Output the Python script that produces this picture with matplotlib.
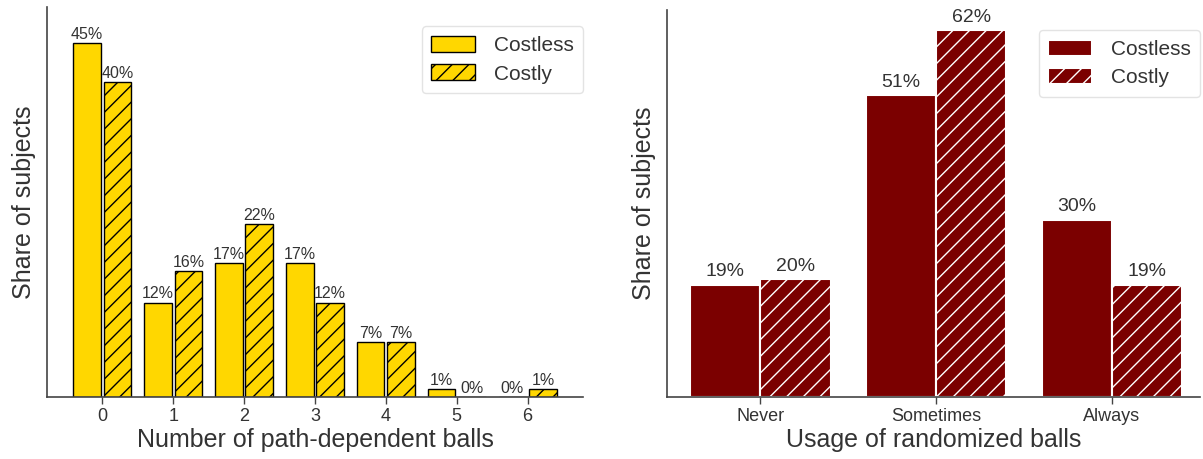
import numpy as np
import matplotlib
matplotlib.use("Agg")
import matplotlib.pyplot as plt

plt.rcParams['font.family'] = ['Liberation Sans', 'DejaVu Sans']
plt.rcParams['hatch.linewidth'] = 1.0

# Path-dependent balls (left panel)
balls = ["0", "1", "2", "3", "4", "5", "6"]
path_costless = [45, 12, 17, 17, 7, 1, 0]
path_costly = [40, 16, 22, 12, 7, 0, 1]

# Randomized ball usage (right panel)
usage = ["Never", "Sometimes", "Always"]
rand_costless = [19, 51, 30]
rand_costly = [20, 62, 19]

series_names = ["Costless", "Costly"]

GOLD = "#FFD700"
MAROON = "#7B0000"
SPINE = "#444444"
TEXT = "#333333"

fig = plt.figure(figsize=(12.03, 4.59), dpi=100)
ax1 = fig.add_axes([0.039, 0.135, 0.4456, 0.850])
ax2 = fig.add_axes([0.5544, 0.135, 0.4431, 0.843])


def style_axes(ax):
    for side in ("top", "right"):
        ax.spines[side].set_visible(False)
    for side in ("left", "bottom"):
        ax.spines[side].set_color(SPINE)
        ax.spines[side].set_linewidth(1.2)
    ax.set_yticks([])
    ax.tick_params(axis="x", length=5, width=1.0, color=SPINE,
                   labelsize=13, labelcolor=TEXT, pad=3)


def add_legend(ax, top):
    leg = ax.legend(loc="upper right", fontsize=15, frameon=True,
                    handlelength=2.1, handleheight=0.8, borderpad=0.45,
                    labelspacing=0.45, handletextpad=0.9,
                    borderaxespad=0.0, bbox_to_anchor=(1.0, top))
    leg.get_frame().set_edgecolor("#DDDDDD")
    for t in leg.get_texts():
        t.set_color(TEXT)
    return leg


# Left panel
x1 = np.arange(len(balls))
w1 = 0.39
b1 = ax1.bar(x1 - 0.215, path_costless, w1, color=GOLD, edgecolor="black",
             linewidth=1.0, label=series_names[0])
b2 = ax1.bar(x1 + 0.215, path_costly, w1, color=GOLD, edgecolor="black",
             linewidth=1.0, hatch="//", label=series_names[1])
ax1.bar_label(b1, labels=[f"{v}%" for v in path_costless], padding=1,
              fontsize=11.5, color=TEXT)
ax1.bar_label(b2, labels=[f"{v}%" for v in path_costly], padding=1,
              fontsize=11.5, color=TEXT)
ax1.set_xticks(x1)
ax1.set_xticklabels(balls)
ax1.set_xlim(-0.78, 6.78)
ax1.set_ylim(0, 49.6)
style_axes(ax1)
ax1.set_xlabel("Number of path-dependent balls", fontsize=18, color=TEXT,
               labelpad=2)
ax1.set_ylabel("Share of subjects", fontsize=18, color=TEXT, labelpad=8)
add_legend(ax1, 0.95)

# Right panel
x2 = np.arange(len(usage))
w2 = 0.4
r1 = ax2.bar(x2 - 0.2, rand_costless, w2, color=MAROON, edgecolor="white",
             linewidth=1.5, label=series_names[0])
r2 = ax2.bar(x2 + 0.2, rand_costly, w2, color=MAROON, edgecolor="white",
             linewidth=1.5, hatch="//", label=series_names[1])
ax2.bar_label(r1, labels=[f"{v}%" for v in rand_costless], padding=3,
              fontsize=14, color=TEXT)
ax2.bar_label(r2, labels=[f"{v}%" for v in rand_costly], padding=3,
              fontsize=14, color=TEXT)
ax2.set_xticks(x2)
ax2.set_xticklabels(usage)
ax2.set_xlim(-0.53, 2.5)
ax2.set_ylim(0, 65.4)
style_axes(ax2)
ax2.set_xlabel("Usage of randomized balls", fontsize=18, color=TEXT,
               labelpad=2)
ax2.set_ylabel("Share of subjects", fontsize=18, color=TEXT, labelpad=8)
add_legend(ax2, 0.948)

fig.savefig("out.png", dpi=100)
